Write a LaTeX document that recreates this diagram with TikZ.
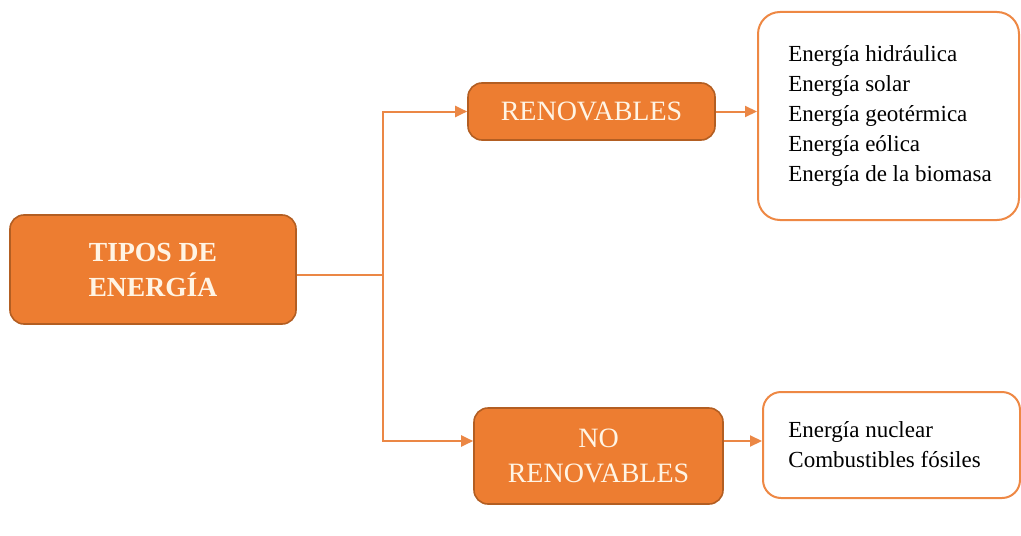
\documentclass[tikz,border=0pt]{standalone}
\usepackage{fontspec}
\setmainfont{Liberation Serif}
\usetikzlibrary{arrows.meta,calc}

\definecolor{boxfill}{HTML}{ED7D31}
\definecolor{boxedge}{HTML}{B35E22}
\definecolor{linkcol}{HTML}{EB8745}
\definecolor{listedge}{HTML}{EE8844}
\definecolor{cream}{HTML}{FFF4E4}

\tikzset{
  catbox/.style={draw=boxedge, line width=0.8pt, fill=boxfill, rounded corners=7pt,
    text=cream, align=center, inner sep=0pt},
  listbox/.style={draw=listedge, line width=1pt, fill=white, rounded corners=11pt, inner sep=0pt},
  listtext/.style={align=left, inner sep=0pt, text=black,
    font=\fontsize{11.5}{15}\selectfont},
  link/.style={draw=linkcol, line width=1pt},
  arrowlink/.style={link, -{Triangle[length=6pt,width=5.5pt]}},
}

\begin{document}
\begin{tikzpicture}[x=0.5pt, y=-0.5pt]
  \useasboundingbox (0,0) rectangle (1021,535);

  % root category
  \node[catbox, minimum width=143pt, minimum height=54.5pt,
        font=\bfseries\fontsize{13.8}{17.5}\selectfont] (tipos) at (153,269.5)
        {TIPOS DE\\ENERGÍA};

  % second level
  \node[catbox, minimum width=123.5pt, minimum height=28.5pt,
        font=\fontsize{14}{17.5}\selectfont] (ren) at (591.5,111.5) {RENOVABLES};
  \node[catbox, minimum width=124.5pt, minimum height=48pt,
        font=\fontsize{14}{17.5}\selectfont] (noren) at (598.5,456) {NO\\RENOVABLES};

  % lists of sources
  \node[listbox, minimum width=130.5pt, minimum height=104pt] (renbox) at (888.5,116) {};
  \node[listtext, anchor=west] (renlist) at ([xshift=15.5pt]renbox.west)
    {Energía hidráulica\\Energía solar\\Energía geotérmica\\Energía eólica\\Energía de la biomasa};

  \node[listbox, minimum width=128.5pt, minimum height=53pt, rounded corners=9pt] (nrbox) at (891.5,445) {};
  \node[listtext, anchor=west] (nrlist) at ([xshift=13pt]nrbox.west)
    {Energía nuclear\\Combustibles fósiles};

  % connectors
  \coordinate (split) at (383,275);
  \coordinate (nrin) at ([yshift=7.5pt]noren.west);
  \coordinate (nrout) at ([yshift=7.5pt]noren.east);

  \draw[link] (tipos.east |- split) -- (split);
  \draw[arrowlink] (split) |- (ren.west);
  \draw[arrowlink] (split) |- (nrin);
  \draw[arrowlink] (ren.east) -- (ren.east -| renbox.west);
  \draw[arrowlink] (nrout) -- (nrout -| nrbox.west);
\end{tikzpicture}
\end{document}
